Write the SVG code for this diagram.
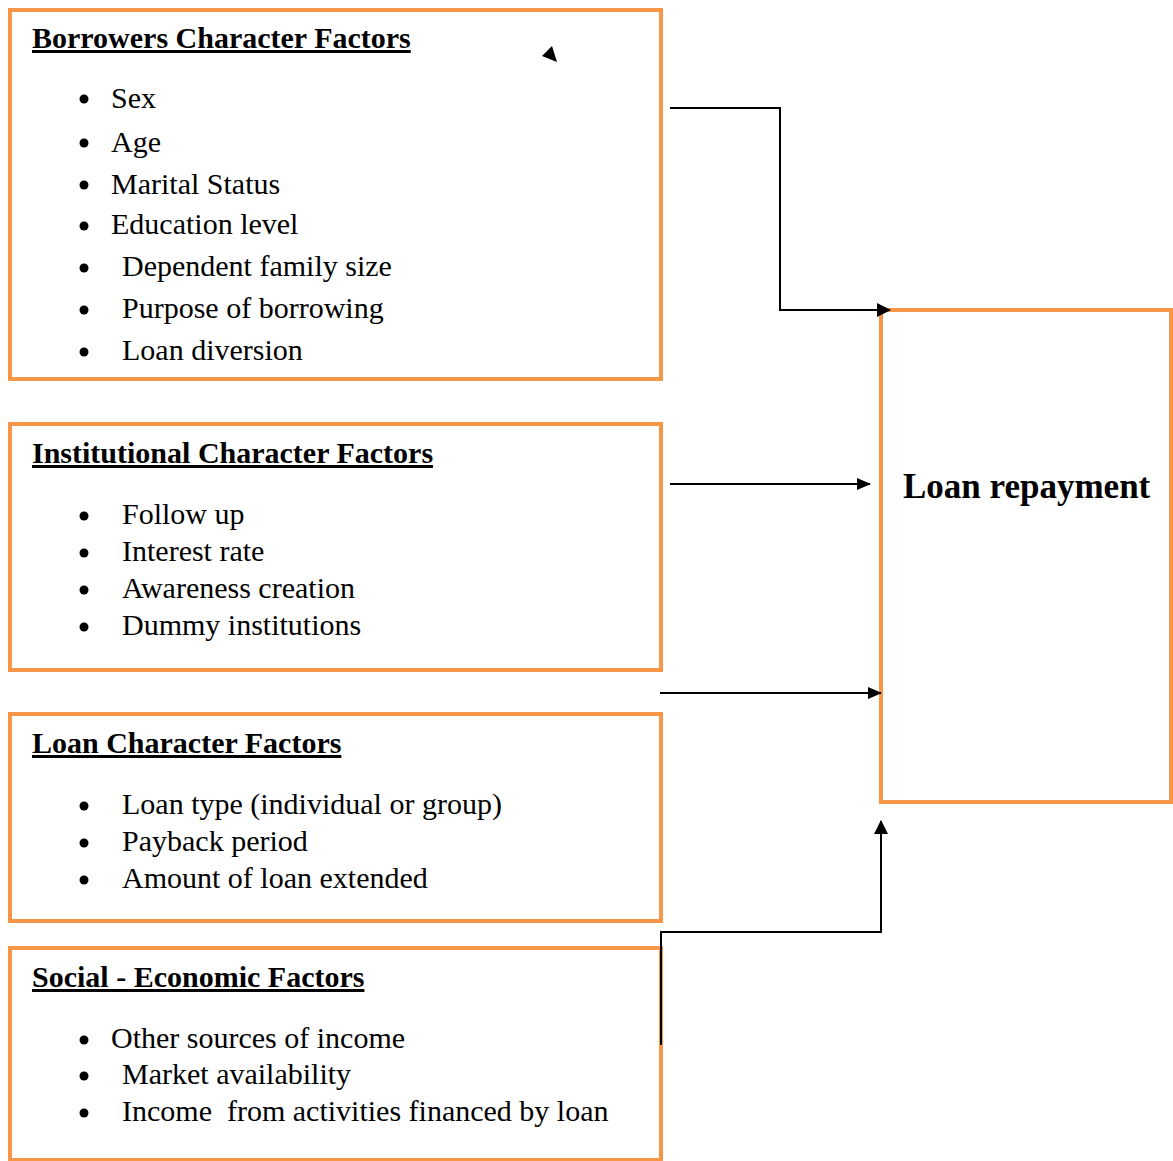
<svg xmlns="http://www.w3.org/2000/svg" width="1173" height="1161" viewBox="0 0 1173 1161">
<defs>
<style>
.box{fill:#fff;stroke:#F79646;stroke-width:4}
.t{font-family:"Liberation Serif","Times New Roman",serif;font-size:30px;fill:#000}
.h{font-family:"Liberation Serif","Times New Roman",serif;font-size:30px;font-weight:bold;text-decoration:underline;fill:#000}
.big{font-family:"Liberation Serif","Times New Roman",serif;font-size:35px;font-weight:bold;fill:#000}
.c{fill:none;stroke:#000;stroke-width:2}
.b{fill:#000}
</style>
<marker id="ah" markerWidth="14" markerHeight="12" refX="13" refY="6" orient="auto" markerUnits="userSpaceOnUse" viewBox="0 0 14 12">
<path d="M0,0 L14,6 L0,12 z" fill="#000"/>
</marker>
<marker id="ah2" markerWidth="14" markerHeight="14" refX="13" refY="7" orient="auto" markerUnits="userSpaceOnUse" viewBox="0 0 14 14">
<path d="M0,0 L14,7 L0,14 z" fill="#000"/>
</marker>
</defs>
<rect width="1173" height="1161" fill="#fff"/>

<g id="borrowers">
<rect class="box" x="10" y="10" width="651" height="369"/>
<text class="h" x="32" y="48">Borrowers Character Factors</text>
<circle class="b" cx="84" cy="99" r="4.5"/><text class="t" x="111" y="108">Sex</text>
<circle class="b" cx="84" cy="143" r="4.5"/><text class="t" x="111" y="152">Age</text>
<circle class="b" cx="84" cy="185" r="4.5"/><text class="t" x="111" y="194">Marital Status</text>
<circle class="b" cx="84" cy="226" r="4.5"/><text class="t" x="111" y="234">Education level</text>
<circle class="b" cx="84" cy="268" r="4.5"/><text class="t" x="122" y="276">Dependent family size</text>
<circle class="b" cx="84" cy="310" r="4.5"/><text class="t" x="122" y="318">Purpose of borrowing</text>
<circle class="b" cx="84" cy="352" r="4.5"/><text class="t" x="122" y="360">Loan diversion</text>
</g>

<g id="institutional">
<rect class="box" x="10" y="424" width="651" height="246"/>
<text class="h" x="32" y="463">Institutional Character Factors</text>
<circle class="b" cx="84" cy="516" r="4.5"/><text class="t" x="122" y="524">Follow up</text>
<circle class="b" cx="84" cy="553" r="4.5"/><text class="t" x="122" y="561">Interest rate</text>
<circle class="b" cx="84" cy="590" r="4.5"/><text class="t" x="122" y="598">Awareness creation</text>
<circle class="b" cx="84" cy="627" r="4.5"/><text class="t" x="122" y="635">Dummy institutions</text>
</g>

<g id="loan">
<rect class="box" x="10" y="714" width="651" height="207"/>
<text class="h" x="32" y="753">Loan Character Factors</text>
<circle class="b" cx="84" cy="806" r="4.5"/><text class="t" x="122" y="814">Loan type (individual or group)</text>
<circle class="b" cx="84" cy="843" r="4.5"/><text class="t" x="122" y="851">Payback period</text>
<circle class="b" cx="84" cy="880" r="4.5"/><text class="t" x="122" y="888">Amount of loan extended</text>
</g>

<g id="social">
<rect class="box" x="10" y="948" width="651" height="212"/>
<text class="h" x="32" y="987">Social - Economic Factors</text>
<circle class="b" cx="84" cy="1040" r="4.5"/><text class="t" x="111" y="1048">Other sources of income</text>
<circle class="b" cx="84" cy="1076" r="4.5"/><text class="t" x="122" y="1084">Market availability</text>
<circle class="b" cx="84" cy="1113" r="4.5"/><text class="t" x="122" y="1121" xml:space="preserve">Income  from activities financed by loan</text>
</g>

<g id="repayment">
<rect class="box" x="881" y="310" width="290" height="492"/>
<text class="big" x="903" y="498">Loan repayment</text>
</g>

<g id="connectors">
<polyline class="c" points="670,108 780,108 780,310 890,310" marker-end="url(#ah2)"/>
<line class="c" x1="670" y1="484" x2="870" y2="484" marker-end="url(#ah)"/>
<line class="c" x1="660" y1="693" x2="881" y2="693" marker-end="url(#ah)"/>
<polyline class="c" points="661,1045 661,932 881,932 881,821" marker-end="url(#ah2)"/>
<polygon class="b" points="542,56 552,46 557,62"/>
</g>
</svg>
